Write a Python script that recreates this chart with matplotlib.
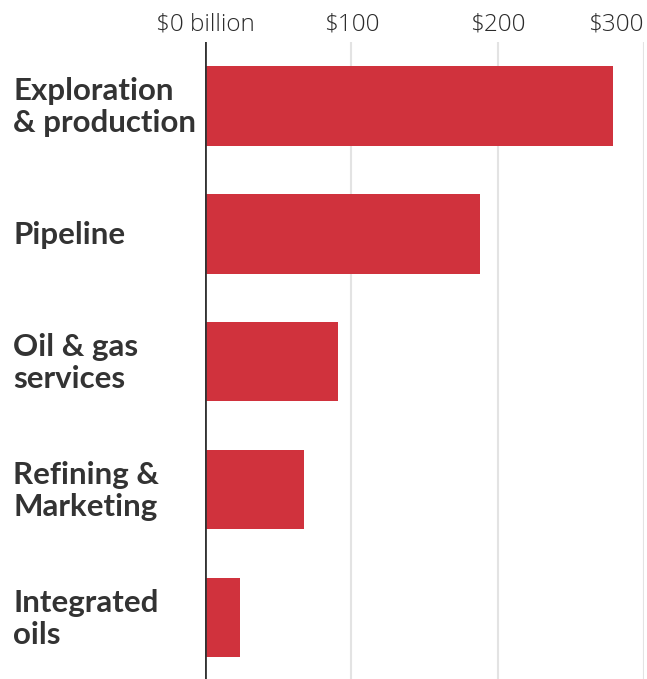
import matplotlib
matplotlib.use("Agg")
from matplotlib import pyplot as plt

categories = ["Exploration\n& production", "Pipeline", "Oil & gas\nservices",
              "Refining &\nMarketing", "Integrated\noils"]
values = [279, 188, 91, 67.5, 24]
tick_values = [0, 100, 200, 300]
tick_labels = ["$0 billion", "$100", "$200", "$300"]

W, H = 647, 679
fig = plt.figure(figsize=(W / 100, H / 100), dpi=100)
ax = fig.add_axes([205 / W, 0, (644 - 205) / W, 1 - 42 / H])

ypos = list(range(len(categories)))
ax.barh(ypos, values, height=0.62, color="#d0323d", zorder=2)

ax.set_xlim(0, 300)
ax.set_ylim(4.48, -0.5)
for x in tick_values[1:]:
    ax.axvline(x, color="#e3e3e3", lw=1.5, zorder=1)
ax.axvline(0, color="#333333", lw=2, zorder=3)

for s in ax.spines.values():
    s.set_visible(False)
ax.set_xticks([])
ax.set_yticks([])

for x, lab in zip(tick_values, tick_labels):
    ha = "right" if x == 300 else "center"
    ax.text(x, -0.5 - 18 / 128, lab, ha=ha, va="center", fontsize=17.5,
            color="#2b2b2b", family="Open Sans", fontweight="light")

for y, lab in zip(ypos, categories):
    fig.text(13 / W, 1 - (107 + 128 * y) / H, lab, ha="left", va="center",
             fontsize=22.5, fontweight="bold", color="#333333",
             family="Lato", linespacing=1.2)

fig.savefig("out.png", dpi=100)
